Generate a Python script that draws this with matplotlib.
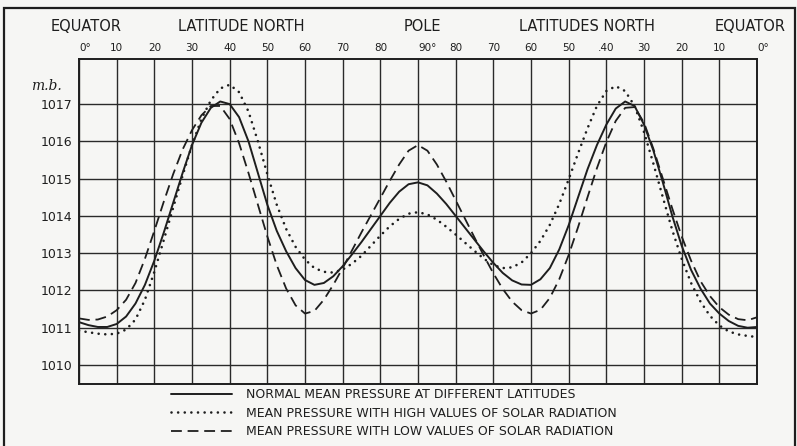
import matplotlib
matplotlib.use("Agg")
from matplotlib import pyplot as plt
from matplotlib.patches import Rectangle
import numpy as np

# latitude axis runs equator -> pole -> equator (0..180)
lat = np.arange(0, 180.1, 2.5)

# normal mean pressure at different latitudes (mb)
p_normal = [1011.15, 1011.07, 1011.02, 1011.02, 1011.1, 1011.3, 1011.65, 1012.15,
            1012.8, 1013.55, 1014.35, 1015.15, 1015.9, 1016.5, 1016.9, 1017.07,
            1017.0, 1016.65, 1016.0, 1015.15, 1014.3, 1013.6, 1013.05, 1012.6,
            1012.28, 1012.15, 1012.2, 1012.38, 1012.65, 1012.97, 1013.3, 1013.65,
            1014.0, 1014.35, 1014.65, 1014.85, 1014.9, 1014.82, 1014.6, 1014.32,
            1014.0, 1013.68, 1013.36, 1013.04, 1012.74, 1012.47, 1012.27, 1012.16,
            1012.15, 1012.3, 1012.6, 1013.1, 1013.75, 1014.5, 1015.25, 1015.9,
            1016.45, 1016.88, 1017.07, 1016.95, 1016.45, 1015.75, 1014.9, 1014.0,
            1013.2, 1012.55, 1012.05, 1011.65, 1011.38, 1011.18, 1011.05, 1011.0,
            1011.02]

# mean pressure with high values of solar radiation
p_high = [1010.92, 1010.88, 1010.84, 1010.82, 1010.84, 1010.95, 1011.22, 1011.75,
          1012.5, 1013.35, 1014.22, 1015.08, 1015.9, 1016.6, 1017.1, 1017.42,
          1017.52, 1017.32, 1016.8, 1016.0, 1015.12, 1014.3, 1013.65, 1013.17,
          1012.83, 1012.6, 1012.5, 1012.48, 1012.56, 1012.72, 1012.93, 1013.2,
          1013.47, 1013.72, 1013.92, 1014.06, 1014.1, 1014.04, 1013.9, 1013.71,
          1013.5, 1013.28, 1013.06, 1012.85, 1012.68, 1012.6, 1012.62, 1012.75,
          1013.0, 1013.33, 1013.76, 1014.32, 1014.98, 1015.68, 1016.35, 1016.95,
          1017.35, 1017.48, 1017.35, 1016.95, 1016.25, 1015.4, 1014.5, 1013.62,
          1012.85, 1012.2, 1011.7, 1011.32, 1011.06, 1010.9, 1010.82, 1010.78,
          1010.75]

# mean pressure with low values of solar radiation
p_low = [1011.25, 1011.21, 1011.22, 1011.3, 1011.47, 1011.75, 1012.2, 1012.85,
         1013.6, 1014.38, 1015.12, 1015.78, 1016.3, 1016.7, 1016.95, 1016.95,
         1016.6, 1015.95, 1015.15, 1014.3, 1013.45, 1012.68, 1012.05, 1011.6,
         1011.38, 1011.45, 1011.75, 1012.15, 1012.6, 1013.08, 1013.56, 1014.02,
         1014.48, 1014.94, 1015.38, 1015.75, 1015.9, 1015.75, 1015.38, 1014.92,
         1014.42, 1013.92, 1013.42, 1012.93, 1012.46, 1012.04, 1011.7, 1011.47,
         1011.38, 1011.48, 1011.8, 1012.3, 1012.95, 1013.7, 1014.5, 1015.28,
         1015.98, 1016.55, 1016.9, 1016.92, 1016.5, 1015.8, 1015.0, 1014.2,
         1013.45, 1012.8, 1012.25, 1011.85, 1011.55, 1011.35, 1011.23, 1011.2,
         1011.28]

lat_ticks = np.arange(0, 181, 10)
lat_labels = ["0°", "10", "20", "30", "40", "50", "60", "70", "80", "90°",
              "80", "70", "60", "50", ".40", "30", "20", "10", "0°"]
mb_ticks = np.arange(1010, 1018)
mb_labels = ["1010", "1011", "1012", "1013", "1014", "1015", "1016", "1017"]

ink = "#1e1e1e"
paper = "#f6f6f4"
W, H = 797, 446

fig = plt.figure(figsize=(W / 100, H / 100), dpi=100, facecolor=paper)
ax = fig.add_axes([79 / W, 62 / H, 678 / W, 325 / H], facecolor=paper)

ax.plot(lat, p_normal, color=ink, lw=1.4, solid_capstyle="round",
        solid_joinstyle="round",
        label="NORMAL MEAN PRESSURE AT DIFFERENT LATITUDES")
ax.plot(lat, p_high, color=ink, lw=1.9, linestyle=(0, (0.01, 2.5)),
        dash_capstyle="round",
        label="MEAN PRESSURE WITH HIGH VALUES OF SOLAR RADIATION")
ax.plot(lat, p_low, color=ink, lw=1.3, linestyle=(0, (6, 3.2)),
        dash_joinstyle="round",
        label="MEAN PRESSURE WITH LOW VALUES OF SOLAR RADIATION")

ax.set_xlim(0, 180)
ax.set_ylim(1009.49, 1018.21)

ax.xaxis.tick_top()
ax.set_xticks(lat_ticks)
ax.set_xticklabels(lat_labels, fontsize=7.5, color=ink)
for t in ax.get_xticklabels():
    if "°" in t.get_text():
        t.set_ha("left")
ax.set_yticks(mb_ticks)
ax.set_yticklabels(mb_labels, fontsize=9, color=ink)
ax.tick_params(length=0, pad=5)
ax.tick_params(axis="x", pad=4)

ax.grid(True, color="#2a2a2a", lw=1.0)
ax.set_axisbelow(True)
for s in ax.spines.values():
    s.set_color(ink)
    s.set_linewidth(1.4)

# headings above the latitude scale
heads = [("EQUATOR", 86), ("LATITUDE NORTH", 241), ("POLE", 422),
         ("LATITUDES NORTH", 587), ("EQUATOR", 750)]
for txt, px in heads:
    fig.text(px / W, 1 - 26.5 / H, txt, ha="center", va="center",
             fontsize=10.5, color=ink)

fig.text(62 / W, 1 - 86 / H, "m.b.", ha="right", va="center", fontsize=10,
         family="DejaVu Serif", style="italic", color=ink)

fig.legend(loc="upper left", bbox_to_anchor=(171 / W, 1 - 388 / H),
           frameon=False, fontsize=9, handlelength=4.9, handletextpad=1.1,
           labelspacing=0.45, borderpad=0, borderaxespad=0, labelcolor=ink)

# outer border of the plate
fig.patches.append(Rectangle((4 / W, -0.05), 791 / W, 1.05 - 8 / H,
                             transform=fig.transFigure, fill=False,
                             edgecolor=ink, lw=1.6))

fig.savefig("out.png", dpi=100, facecolor=paper)
